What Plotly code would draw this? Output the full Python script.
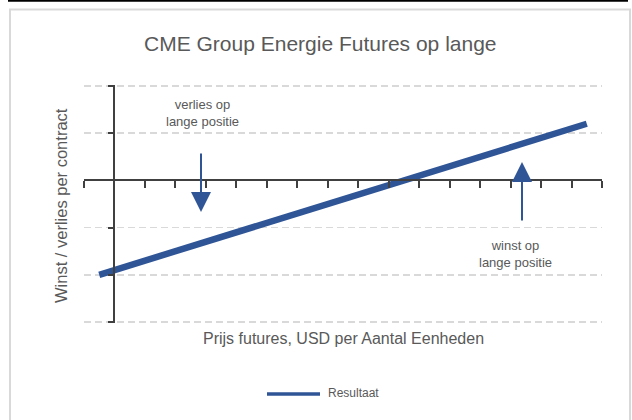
import plotly.graph_objects as go

# ---- data ----
categories = list(range(17))
resultaat = [-2.0, -1.8, -1.6, -1.4, -1.2, -1.0, -0.8, -0.6, -0.4, -0.2,
             0.0, 0.2, 0.4, 0.6, 0.8, 1.0, 1.2]
y_ticks = [-3, -2, -1, 0, 1, 2]
x_ticks = [c - 0.5 for c in categories] + [categories[-1] + 0.5]

title_text = "CME Group Energie Futures op lange"
x_title = "Prijs futures, USD per Aantal Eenheden"
y_title = "Winst / verlies per contract"
series_name = "Resultaat"
note_loss = "verlies op<br>lange positie"
note_gain = "winst op<br>lange positie"

W, H = 632, 420
FONT = "Arial, Liberation Sans, sans-serif"
GRAY = "#595959"
AXIS = "#404040"
BLUE = "#2F5597"

def px(x):
    return x / W

def py(y):
    return 1 - y / H

plot_l, plot_r = 84, 602
x_range = [-0.5, 16.5]
# extend value range slightly so that the end gridlines are drawn
eps = 0.03
y_range = [-3 - eps, 2 + eps]
px_per_unit = (322 - 86) / 5.0
plot_t = 86 - eps * px_per_unit
plot_b = 322 + eps * px_per_unit

yaxis_x_px = plot_l + (0.5 - x_range[0]) / (x_range[1] - x_range[0]) * (plot_r - plot_l)
xaxis_y_px = plot_b - (0 - y_range[0]) / (y_range[1] - y_range[0]) * (plot_b - plot_t)

fig = go.Figure()
fig.add_trace(go.Scatter(
    x=categories, y=resultaat, mode="lines", name=series_name,
    line=dict(color=BLUE, width=6.5), showlegend=False, hoverinfo="skip",
))

fig.update_layout(
    width=W, height=H,
    margin=dict(l=0, r=0, t=0, b=0, pad=0),
    paper_bgcolor="white", plot_bgcolor="rgba(0,0,0,0)",
    font=dict(family=FONT, color=GRAY),
    showlegend=False,
    xaxis=dict(
        domain=[px(plot_l), px(plot_r)], range=x_range,
        anchor="free", position=py(xaxis_y_px),
        showgrid=False, zeroline=False,
        showline=True, linecolor=AXIS, linewidth=2,
        tickmode="array", tickvals=x_ticks, ticks="outside",
        ticklen=7, tickwidth=2, tickcolor=AXIS, showticklabels=False,
        fixedrange=True,
    ),
    yaxis=dict(
        domain=[py(plot_b), py(plot_t)], range=y_range,
        anchor="free", position=px(yaxis_x_px),
        showgrid=True, gridcolor="#D9D9D9", gridwidth=1.5, griddash="7px,4px",
        zeroline=False,
        showline=True, linecolor=AXIS, linewidth=2,
        tickmode="array", tickvals=y_ticks, ticks="outside",
        ticklen=5, tickwidth=2, tickcolor=AXIS, showticklabels=False,
        fixedrange=True,
    ),
)

shapes = [
    dict(type="rect", xref="paper", yref="paper",
         x0=px(10), x1=px(630), y0=py(440), y1=py(9.5),
         line=dict(color="#D9D9D9", width=2), fillcolor="rgba(0,0,0,0)", layer="below"),
    dict(type="line", xref="paper", yref="paper",
         x0=px(8), x1=px(628), y0=py(0.8), y1=py(0.8),
         line=dict(color="black", width=2)),
    dict(type="line", xref="paper", yref="paper",
         x0=px(267), x1=px(320), y0=py(394), y1=py(394),
         line=dict(color=BLUE, width=3.5)),
]
fig.update_layout(shapes=shapes)

annotations = [
    dict(text=title_text, xref="paper", yref="paper", x=px(320), y=py(44),
         xanchor="center", yanchor="middle", showarrow=False,
         font=dict(size=21, color=GRAY, family=FONT)),
    dict(text=x_title, xref="paper", yref="paper", x=px(343), y=py(338),
         xanchor="center", yanchor="middle", showarrow=False,
         font=dict(size=16, color=GRAY, family=FONT)),
    dict(text=y_title, xref="paper", yref="paper", x=px(61), y=py(206),
         xanchor="center", yanchor="middle", showarrow=False, textangle=-90,
         font=dict(size=16.5, color=GRAY, family=FONT)),
    dict(text=note_loss, xref="paper", yref="paper", x=px(202), y=py(113),
         xanchor="center", yanchor="middle", showarrow=False,
         font=dict(size=13, color=GRAY, family=FONT)),
    dict(text=note_gain, xref="paper", yref="paper", x=px(515), y=py(254),
         xanchor="center", yanchor="middle", showarrow=False,
         font=dict(size=13, color=GRAY, family=FONT)),
    dict(text="", xref="paper", yref="paper", x=px(201), y=py(212),
         ax=0, ay=-60, showarrow=True, arrowhead=2, arrowsize=2,
         arrowwidth=2, arrowcolor=BLUE),
    dict(text="", xref="paper", yref="paper", x=px(522), y=py(162),
         ax=0, ay=60, showarrow=True, arrowhead=2, arrowsize=2,
         arrowwidth=2, arrowcolor=BLUE),
    dict(text=series_name, xref="paper", yref="paper", x=px(326), y=py(393),
         xanchor="left", yanchor="middle", showarrow=False,
         font=dict(size=12, color=GRAY, family=FONT)),
]
fig.update_layout(annotations=annotations)

fig.write_html("out.html",
               config={"displayModeBar": False, "staticPlot": True},
               post_script="document.body.style.margin='0';document.body.style.padding='0';")
